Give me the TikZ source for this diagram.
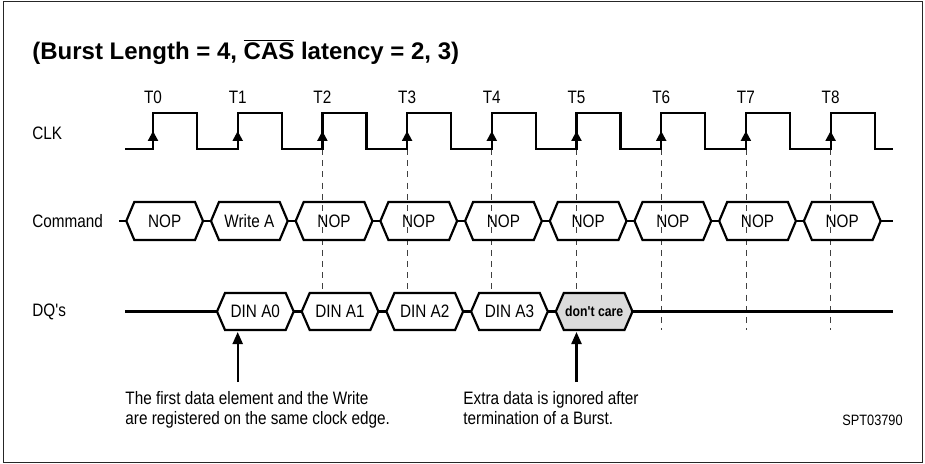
\documentclass[tikz,border=0pt]{standalone}
\usepackage{fontspec}
\setmainfont{Liberation Sans}
\newfontfamily\narrowsf[FakeStretch=0.85]{Liberation Sans}
\usetikzlibrary{arrows.meta}

\begin{document}
\begin{tikzpicture}[
    x=0.5pt, y=-0.5pt,
    sigline/.style={line width=1.1pt, line join=miter},
    guide/.style={line width=0.4pt, black!75, dash pattern=on 3pt off 2.6pt},
    edgetip/.style={line width=1.1pt, -{Triangle[length=5pt, width=5pt]}},
    notearrow/.style={line width=1.1pt, -{Triangle[length=6pt, width=5pt]}},
    txt/.style={font=\narrowsf\fontsize{9}{10}\selectfont, inner sep=0pt},
    rowlabel/.style={txt, anchor=west},
    dontcare/.style={sigline, fill=black!14},
]
\useasboundingbox (0,0) rectangle (925,464);
\draw[line width=0.5pt, black!85] (3,2) rectangle (922,462);

% ============ TITLE ============
\node[anchor=base west, inner sep=0pt, font=\bfseries\fontsize{12}{14}\selectfont] (title) at (32,60)
  {(Burst Length = 4, $\overline{\hbox{CAS}}$ latency = 2, 3)};

% ============ ROW LABELS ============
\node[rowlabel] (clklbl) at (32,133) {CLK};
\node[rowlabel] (cmdlbl) at (32,221) {Command};
\node[rowlabel] (dqlbl) at (32,312) {DQ's};

% ============ GUIDE LINES ============
\foreach \k in {2,...,5}
  \draw[guide] ({153+84.7*\k},149) -- ({153+84.7*\k},293);
\foreach \k in {6,...,8}
  \draw[guide] ({153+84.7*\k},149) -- ({153+84.7*\k},330);

% ============ CLOCK ============
\draw[sigline] (125,149)
  \foreach \k in {0,...,8} {
    -- ({153+84.7*\k},149) -- ({153+84.7*\k},113) -- ({197+84.7*\k},113) -- ({197+84.7*\k},149)
  } -- (893,149);
\foreach \k in {0,...,8} {
  \node[txt] (t\k) at ({153+84.7*\k},97) {T\k};
  \draw[edgetip] ({153+84.7*\k},149) -- ({153+84.7*\k},131);
}

% ============ COMMAND BUS ============
\foreach \lab [count=\j from 0] in {NOP, Write A, NOP, NOP, NOP, NOP, NOP, NOP, NOP} {
  \pgfmathsetmacro\ca{122.3+84.7*\j}
  \pgfmathsetmacro\cb{\ca+84.7}
  \draw[sigline] (\ca+4,221) -- (\ca+12,202) -- (\cb-12,202) -- (\cb-4,221)
    -- (\cb-12,240) -- (\ca+12,240) -- cycle;
  \node[txt] (cmd\j) at ({(\ca+\cb)/2},221) {\lab};
}
\foreach \j in {1,...,8}
  \draw[sigline] ({122.3+84.7*\j-4},221) -- ++(8,0);
\draw[sigline] (119,221) -- (126.3,221);
\draw[sigline] (880.6,221) -- (893,221);

% ============ DQ BUS ============
\draw[sigline] (125,311.5) -- (217,311.5);
\foreach \lab [count=\k from 0] in {DIN A0, DIN A1, DIN A2, DIN A3} {
  \pgfmathsetmacro\da{213+84.7*\k}
  \pgfmathsetmacro\db{\da+84.7}
  \draw[sigline] (\da+4,311.5) -- (\da+12,293) -- (\db-12,293) -- (\db-4,311.5)
    -- (\db-12,330) -- (\da+12,330) -- cycle;
  \node[txt] (din\k) at ({(\da+\db)/2},311.5) {\lab};
}
\foreach \k in {1,...,4}
  \draw[sigline] ({213+84.7*\k-4},311.5) -- ++(8,0);
\draw[dontcare] (555.8,311.5) -- (563.8,293) -- (624.5,293) -- (632.5,311.5)
  -- (624.5,330) -- (563.8,330) -- cycle;
\node[txt, font=\narrowsf\bfseries\fontsize{7.2}{8}\selectfont] (dc) at (594.2,311.5) {don't care};
\draw[sigline] (632.5,311.5) -- (893,311.5);

% ============ NOTES ============
\node[txt, anchor=north west, align=left] (note1) at (125,391)
  {The first data element and the Write\\are registered on the same clock edge.};
\node[txt, anchor=north west, align=left] (note2) at (463,391)
  {Extra data is ignored after\\termination of a Burst.};
\node[anchor=base east, inner sep=0pt, font=\narrowsf\fontsize{7.5}{9}\selectfont] (figid) at (903,425) {SPT03790};

\coordinate (a1) at (237.7,382);
\coordinate (a1tip) at (237.7,332);
\coordinate (a5) at (576.5,382);
\coordinate (a5tip) at (576.5,332);
\draw[notearrow] (a1) -- (a1tip);
\draw[notearrow] (a5) -- (a5tip);

\end{tikzpicture}
\end{document}
